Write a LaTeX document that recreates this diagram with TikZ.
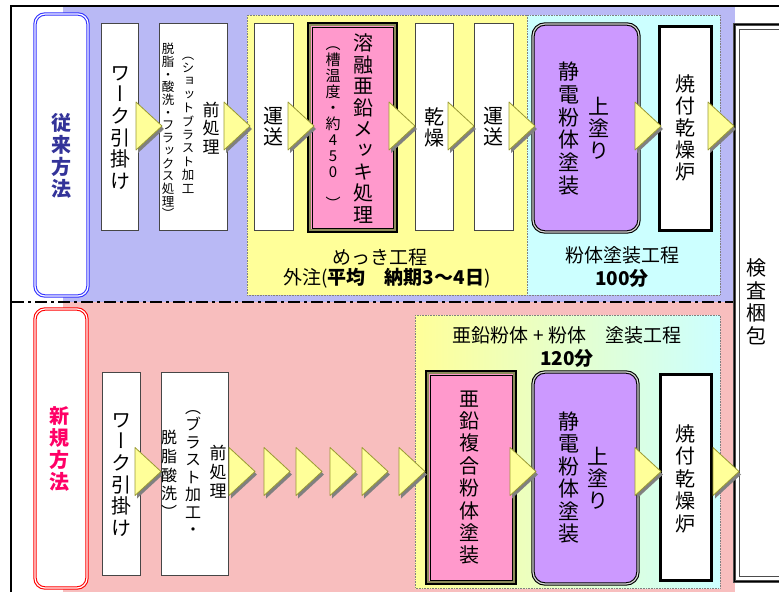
\documentclass[tikz,border=0pt]{standalone}
\usepackage{fontspec}
\setmainfont{Noto Sans CJK JP}
\newfontfamily\vf[RawFeature=+vert]{Noto Sans CJK JP}
\definecolor{ylw}{RGB}{255,255,153}
\definecolor{cyn}{RGB}{204,255,255}
\definecolor{pnk}{RGB}{255,153,204}
\definecolor{prp}{RGB}{204,153,255}
\definecolor{bluebg}{RGB}{185,185,245}
\definecolor{redbg}{RGB}{248,190,190}
\definecolor{lblblue}{RGB}{51,51,255}
\definecolor{lblred}{RGB}{255,0,0}
\definecolor{txtblue}{RGB}{51,51,153}
\definecolor{txtred}{RGB}{255,0,102}
\definecolor{triedge}{RGB}{153,153,51}
\definecolor{trishadow}{RGB}{128,128,128}
\definecolor{boxedge}{RGB}{70,70,70}
\definecolor{olivebd}{RGB}{140,140,90}
\newcommand\flowtri[2]{%
  \fill[trishadow] (#1+2,#2-21) -- (#1+28,#2+3) -- (#1+2,#2+27) -- cycle;
  \draw[arrowtri] (#1,#2-24) -- (#1+26,#2) -- (#1,#2+24) -- cycle;}
\tikzset{
  wbox/.style={draw=boxedge, fill=white, line width=0.8},
  thickbox/.style={draw=black, fill=white, line width=3},
  region/.style={draw=gray, densely dotted, line width=0.6},
  lblbox/.style={rounded corners=10pt, fill=white, line width=1.1, double=white, double distance=1.2},
  purplebox/.style={rounded corners=12pt, fill=prp, draw=black, line width=1.1, double=gray!30, double distance=1.2},
  arrowtri/.style={fill=ylw, draw=triedge, line width=0.8, line join=round},
  vt/.style 2 args={align=center, inner sep=0pt, font=\vf\fontsize{#1}{#2}\selectfont},
  vtb/.style 2 args={align=center, inner sep=0pt, font=\vf\bfseries\fontsize{#1}{#2}\selectfont},
  hz/.style={inner sep=0pt, font=\fontsize{19}{22}\selectfont},
}
\begin{document}
\begin{tikzpicture}[x=1pt,y=-1pt]
\useasboundingbox (0,0) rectangle (779,592);
% patterned backgrounds
\fill[bluebg] (63,7) rectangle (735,302);
\fill[redbg] (63,302) rectangle (735,592);
% frame
\draw[line width=2] (11,592) -- (11,6) -- (779,6);
\draw[line width=1.5, dash pattern=on 12pt off 4pt on 3pt off 4pt] (12,302) -- (735,302);
% label boxes
\draw[lblbox, draw=lblblue] (35,14) rectangle (88,296);
\draw[lblbox, draw=lblred] (35,309) rectangle (87,588);
% process regions
\draw[region, fill=ylw] (247,15) rectangle (527,295);
\draw[region, fill=cyn] (527,15) rectangle (720,295);
\shade[left color=ylw, right color=cyn] (415,315) rectangle (720,588);
\draw[region] (415,315) rectangle (720,588);
% inspection box
\draw[fill=white, draw=gray!60!black, line width=3] (734.5,24.5) rectangle (800,581);
\draw[black, line width=1] (734.5,24.5) rectangle (800,581);
\draw[gray!60!black, line width=1.5] (739.5,29.5) rectangle (800,576.5);
% ---- top row boxes
\draw[wbox] (101,23) rectangle (138,230);
\draw[wbox] (159,23) rectangle (227,230);
\draw[wbox] (254,23) rectangle (293,230);
\fill[pnk] (307,22) rectangle (398,233);
\draw[black, line width=2] (308,23) rectangle (397,232);
\draw[olivebd, line width=1.5] (310,25) rectangle (395,230);
\draw[black, line width=0.8] (312,27) rectangle (393,228);
\draw[wbox] (415,23) rectangle (453,230);
\draw[wbox] (474,23) rectangle (513,230);
\draw[purplebox] (533,24) rectangle (639,232);
\draw[thickbox] (659.5,26.5) rectangle (711.5,230.5);
% ---- bottom row boxes
\draw[wbox] (102,372) rectangle (140,575);
\draw[wbox] (161,372) rectangle (228,575);
\fill[pnk] (425,370) rectangle (517,585);
\draw[black, line width=2] (426,371) rectangle (516,584);
\draw[olivebd, line width=1.5] (428,373) rectangle (514,582);
\draw[black, line width=0.8] (430,375) rectangle (512,580);
\draw[purplebox] (533,372) rectangle (638,584);
\draw[thickbox] (660.5,374.5) rectangle (711.5,580.5);
% ---- arrows top
\flowtri{136}{126}
\flowtri{224}{126}
\flowtri{288}{126}
\flowtri{389}{126}
\flowtri{448}{126}
\flowtri{509}{126}
\flowtri{635}{126}
\flowtri{708}{126}
% ---- arrows bottom
\flowtri{135}{471.5}
\flowtri{229}{471.5}
\flowtri{264}{471.5}
\flowtri{296}{471.5}
\flowtri{330}{471.5}
\flowtri{362}{471.5}
\flowtri{399}{471.5}
\flowtri{510}{471.5}
\flowtri{635}{471.5}
\flowtri{713}{471.5}
% ---- texts top
\node[vtb={20}{22}, text=txtblue] (lblA) at (61,156) {従\\来\\方\\法};
\node[vt={20}{21.7}] (twk1) at (120,128) {ワ\\ー\\ク\\引\\掛\\け};
\node[vt={17}{18.5}] (tpre1a) at (211,128) {前\\処\\理};
\node[vt={12.5}{13.4}] (tpre1b) at (188,125) {（\\シ\\ョ\\ッ\\ト\\ブ\\ラ\\ス\\ト\\加\\工};
\node[vt={12.5}{12.7}] (tpre1c) at (168,131) {脱\\脂\\・\\酸\\洗\\・\\フ\\ラ\\ッ\\ク\\ス\\処\\理\\）};
\node[vt={20}{21}] (tun1) at (273,127) {運\\送};
\node[vt={20}{21.4}] (tmelt) at (363,128.5) {溶\\融\\亜\\鉛\\メ\\ッ\\キ\\処\\理};
\node[vt={15}{16}] (tmelt2) at (333,128) {（\\槽\\温\\度\\・\\約\\4\\5\\0\\\mbox{}\\）};
\node[vt={20}{21}] (tdry) at (434,127) {乾\\燥};
\node[vt={20}{21}] (tun2) at (493,127) {運\\送};
\node[vt={21}{22.8}] (tsei1) at (569,128.5) {静\\電\\粉\\体\\塗\\装};
\node[vt={21}{22}] (tuw1) at (599,128.5) {上\\塗\\り};
\node[vt={20}{22}] (tyk1) at (685,128) {焼\\付\\乾\\燥\\炉};
\node[vt={20}{22.5}] (tks) at (756,302) {検\\査\\梱\\包};
\node[hz] (tmk) at (380,257) {めっき工程};
\node[hz] (tgc) at (387,278) {外注(\textbf{平均　納期3～4日})};
\node[hz] (tfp) at (622,255) {粉体塗装工程};
\node[hz, font=\bfseries\fontsize{19}{22}\selectfont] (t100) at (622,278) {100分};
% ---- texts bottom
\node[vtb={20}{22}, text=txtred] (lblB) at (59,449) {新\\規\\方\\法};
\node[vt={20}{21.7}] (twk2) at (121,475) {ワ\\ー\\ク\\引\\掛\\け};
\node[vt={17}{19}] (tpre2a) at (218,472) {前\\処\\理};
\node[vt={16}{17.5}] (tpre2b) at (193,473) {（\\ブ\\ラ\\ス\\ト\\加\\工\\・};
\node[vt={16}{18.75}] (tpre2c) at (169,474.5) {脱\\脂\\酸\\洗\\）};
\node[vt={20}{22.4}] (tzinc) at (469,477.5) {亜\\鉛\\複\\合\\粉\\体\\塗\\装};
\node[vt={21}{22.5}] (tsei2) at (569,477.5) {静\\電\\粉\\体\\塗\\装};
\node[vt={21}{22}] (tuw2) at (598,478.5) {上\\塗\\り};
\node[vt={20}{22.5}] (tyk2) at (685,478.5) {焼\\付\\乾\\燥\\炉};
\node[hz] (tzp) at (567,335) {亜鉛粉体 + 粉体　塗装工程};
\node[hz, font=\bfseries\fontsize{19}{22}\selectfont] (t120) at (567,358) {120分};
\end{tikzpicture}
\end{document}
